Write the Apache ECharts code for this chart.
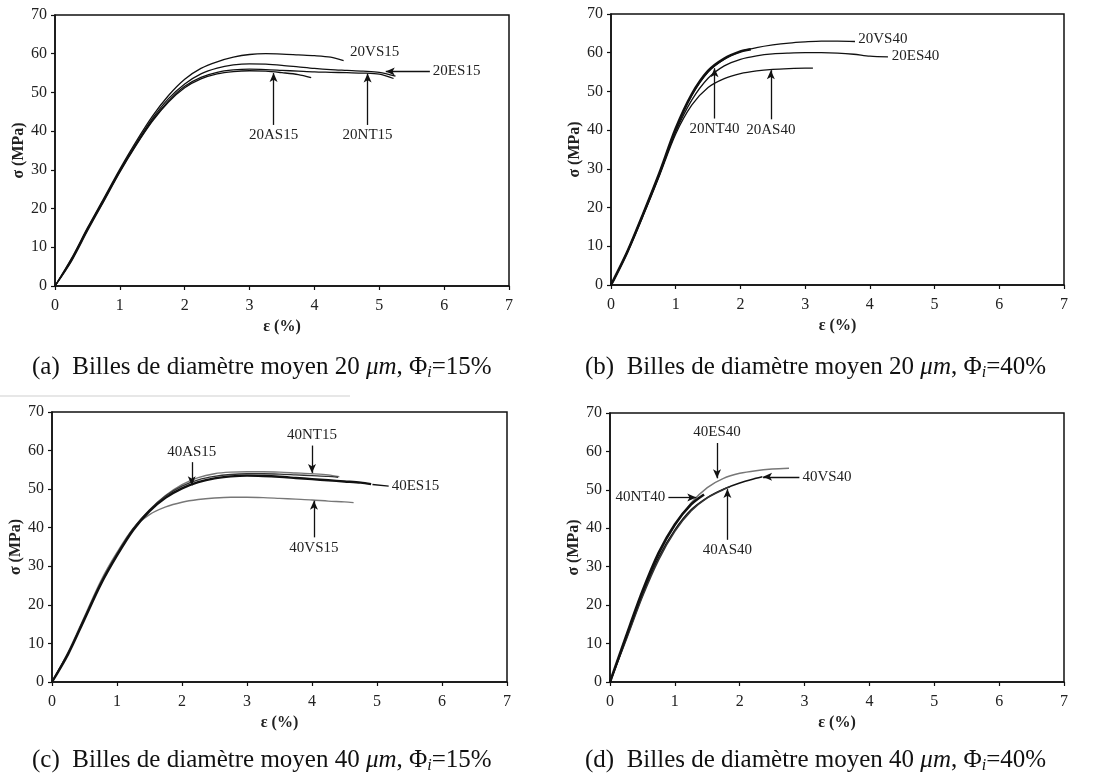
<!DOCTYPE html>
<html>
<head>
<meta charset="utf-8">
<script src="https://cdn.jsdelivr.net/npm/echarts@6/dist/echarts.min.js"></script>
<style>
html,body{margin:0;padding:0;background:#fff;}
#chart{width:1100px;height:781px;}
</style>
</head>
<body>
<div id="chart"></div>
<script>
// ---------- tick labels ----------
const xTicks = [0, 1, 2, 3, 4, 5, 6, 7];
const yTicks = [0, 10, 20, 30, 40, 50, 60, 70];

// ---------- (a) 20 µm, 15% ----------
const a_VS15_x = [0,0.25,0.5,0.75,1,1.25,1.5,1.75,2,2.25,2.5,2.75,3,3.25,3.5,3.75,4,4.25,4.45];
const a_VS15_y = [0,7,15,22.6,30.2,37.3,43.8,49.2,53.4,56.2,57.9,59.1,59.8,60,59.9,59.7,59.5,59.1,58.2];
const a_ES15_x = [0,0.25,0.5,0.75,1,1.25,1.5,1.75,2,2.25,2.5,2.75,3,3.25,3.5,3.75,4,4.25,4.5,4.75,5,5.25];
const a_ES15_y = [0,6.8,14.8,22.3,29.8,36.8,43.2,48.4,52.2,54.8,56.3,57.1,57.4,57.3,57.0,56.6,56.2,55.9,55.7,55.5,55.2,54.2];
const a_NT15_x = [0,0.25,0.5,0.75,1,1.25,1.5,1.75,2,2.25,2.5,2.75,3,3.25,3.5,3.75,4,4.25,4.5,4.75,5,5.22];
const a_NT15_y = [0,6.5,14.5,22,29.6,36.5,42.8,47.8,51.6,53.9,55.2,55.8,56.0,55.9,55.7,55.5,55.3,55.2,55.1,55.0,54.7,53.6];
const a_AS15_x = [0,0.25,0.5,0.75,1,1.25,1.5,1.75,2,2.25,2.5,2.75,3,3.25,3.5,3.75,3.95];
const a_AS15_y = [0,6.3,14.2,21.8,29.4,36.3,42.5,47.5,51.2,53.5,54.8,55.4,55.6,55.5,55.1,54.6,53.8];

// ---------- (b) 20 µm, 40% ----------
const b_VS40_x = [0,0.25,0.5,0.75,1,1.25,1.5,1.75,2,2.25,2.5,2.75,3,3.25,3.5,3.77];
const b_VS40_y = [0,8.6,18.6,29,40.2,49,55,58.3,60.3,61.3,62,62.5,62.8,63,63,62.9];
const b_NT40_x = [0,0.25,0.5,0.75,1,1.25,1.5,1.75,2,2.16];
const b_NT40_y = [0,8.5,18.5,29,40.4,49.3,55.3,58.5,60.3,60.9];
const b_ES40_x = [0,0.25,0.5,0.75,1,1.25,1.5,1.75,2,2.25,2.5,2.75,3,3.25,3.5,3.75,4,4.28];
const b_ES40_y = [0,8.4,18.3,28.6,39.6,47.8,53.4,56.6,58.3,59.2,59.7,59.9,60,60,59.9,59.6,59.1,58.9];
const b_AS40_x = [0,0.25,0.5,0.75,1,1.25,1.5,1.75,2,2.25,2.5,2.75,3,3.12];
const b_AS40_y = [0,8.3,18,28.3,39,46.5,51,53.3,54.6,55.3,55.7,55.9,56,56];

// ---------- (c) 40 µm, 15% ----------
const c_NT15_x = [0,0.25,0.5,0.75,1,1.25,1.5,1.75,2,2.25,2.5,2.75,3,3.25,3.5,3.75,4,4.25,4.42];
const c_NT15_y = [0,7.5,16.5,25.5,33,39.7,44.6,48.4,51.2,53.0,54.0,54.4,54.5,54.5,54.4,54.2,54.0,53.7,53.2];
const c_AS15_x = [0,0.25,0.5,0.75,1,1.25,1.5,1.75,2,2.25,2.5,2.75,3,3.25,3.5,3.75,4,4.25,4.4];
const c_AS15_y = [0,7.6,16.7,25.7,33.2,39.8,44.6,48.3,50.8,52.4,53.3,53.8,54.0,54.0,53.9,53.7,53.5,53.3,53.1];
const c_ES15_x = [0,0.25,0.5,0.75,1,1.25,1.5,1.75,2,2.25,2.5,2.75,3,3.25,3.5,3.75,4,4.25,4.5,4.75,4.91];
const c_ES15_y = [0,7.3,16.3,25.3,32.8,39.4,44.3,47.8,50.2,51.8,52.8,53.3,53.5,53.4,53.2,52.9,52.6,52.3,52.0,51.7,51.3];
const c_VS15_x = [0,0.25,0.5,0.75,1,1.25,1.5,1.75,2,2.25,2.5,2.75,3,3.25,3.5,3.75,4,4.25,4.5,4.64];
const c_VS15_y = [0,7.8,17,26.2,33.6,39.8,43.4,45.4,46.6,47.3,47.7,47.9,47.9,47.8,47.6,47.4,47.2,46.9,46.7,46.5];

// ---------- (d) 40 µm, 40% ----------
const d_ES40_x = [0,0.25,0.5,0.75,1,1.25,1.5,1.75,2,2.25,2.5,2.76];
const d_ES40_y = [0,11.5,23,33.2,40.8,46.6,50.6,53,54.3,55,55.4,55.6];
const d_VS40_x = [0,0.25,0.5,0.75,1,1.25,1.5,1.75,2,2.25,2.35];
const d_VS40_y = [0,11.3,22.6,32.4,39.6,44.8,48,50.2,51.8,53,53.4];
const d_AS40_x = [0,0.25,0.5,0.75,1,1.25,1.5,1.75,1.85];
const d_AS40_y = [0,11,22.2,31.8,39.2,44.5,47.9,50.1,50.8];
const d_NT40_x = [0,0.25,0.5,0.75,1,1.25,1.45];
const d_NT40_y = [0,12,23.6,33.6,41,46.2,48.8];

// ---------- annotations (data coords) ----------
const arrowsA = [
  {text:'20AS15', from:[3.37,41.6], to:[3.37,55.0]},
  {text:'20NT15', from:[4.82,41.6], to:[4.82,54.9]},
  {text:'20ES15', from:[5.78,55.4], to:[5.1,55.4]}
];
const textsA = [{text:'20VS15', at:[4.55,60.4]}];
const arrowsB = [
  {text:'20NT40', from:[1.6,43.0], to:[1.6,56.0]},
  {text:'20AS40', from:[2.47,42.8], to:[2.47,55.5]}
];
const textsB = [{text:'20VS40', at:[3.82,63.6]}, {text:'20ES40', at:[4.34,59.1]}];
const arrowsC = [
  {text:'40AS15', from:[2.15,57.0], to:[2.15,51.0]},
  {text:'40NT15', from:[4.0,61.3], to:[4.0,54.2]},
  {text:'40VS15', from:[4.03,37.5], to:[4.03,47.0]}
];
const linesC = [{text:'40ES15', from:[4.93,51.2], to:[5.18,50.8]}];
const arrowsD = [
  {text:'40ES40', from:[1.65,62.2], to:[1.65,53.0]},
  {text:'40VS40', from:[2.92,53.4], to:[2.36,53.4]},
  {text:'40NT40', from:[0.9,48.0], to:[1.33,48.0]},
  {text:'40AS40', from:[1.81,37.0], to:[1.81,50.2]}
];

const captions = [
  {label:'(a)', d:'20', phi:'15%'},
  {label:'(b)', d:'20', phi:'40%'},
  {label:'(c)', d:'40', phi:'15%'},
  {label:'(d)', d:'40', phi:'40%'}
];

// ---------- layout ----------
const SERIF = 'Liberation Serif';
const grids = [
  {left:55, top:15, width:454, height:271},
  {left:611, top:14, width:453, height:271},
  {left:52, top:412, width:455, height:270},
  {left:610, top:413, width:454, height:269}
];
const yNameGap = [24, 28, 27, 25];
const xNameGap = [33, 33, 33, 33];

function zip(xs, ys){ return xs.map((x,i)=>[x, ys[i]]); }

const labelFont = {fontFamily:SERIF, fontSize:15, color:'#222'};

function arrowMarkLine(arrows, noHead){
  return {
    silent:true,
    animation:false,
    symbol: noHead ? ['none','none'] : ['none','arrow'],
    symbolSize: [6, 9],
    lineStyle:{color:'#111', width:1.3, type:'solid'},
    label:{show:true, position: noHead ? 'end' : 'start', distance:3, formatter:'{b}', ...labelFont},
    emphasis:{disabled:true},
    data: arrows.map(a=>[{name:a.text, coord:a.from}, {coord:a.to}])
  };
}
function textMarkPoint(texts){
  return {
    silent:true,
    animation:false,
    symbol:'circle', symbolSize:0,
    label:{show:true, position:'right', distance:0, formatter:'{b}', ...labelFont},
    data: texts.map(t=>({name:t.text, coord:t.at}))
  };
}

function curve(name, idx, xs, ys, color, width, extra){
  const s = {
    name, type:'line', xAxisIndex:idx, yAxisIndex:idx,
    data: zip(xs, ys), showSymbol:false, symbol:'none',
    smooth:0.3,
    lineStyle:{color, width}, animation:false, silent:true, z:3
  };
  return Object.assign(s, extra||{});
}

const xAxes = grids.map((g,i)=>({
  type:'value', gridIndex:i, min:0, max:7, interval:1,
  name:'ε (%)', nameLocation:'middle', nameGap:xNameGap[i],
  nameTextStyle:{fontFamily:SERIF, fontSize:16, fontWeight:'bold', color:'#222'},
  axisLine:{show:true, onZero:false, lineStyle:{color:'#111', width:1.5}},
  axisTick:{show:true, length:4, lineStyle:{color:'#111', width:1.2}},
  axisLabel:{margin:12, fontFamily:SERIF, fontSize:16, color:'#222', formatter:(v)=>String(xTicks[Math.round(v)])},
  splitLine:{show:false}
}));
const yAxes = grids.map((g,i)=>({
  type:'value', gridIndex:i, min:0, max:70, interval:10,
  name:'σ (MPa)', nameLocation:'middle', nameGap:yNameGap[i], nameRotate:90,
  nameTextStyle:{fontFamily:SERIF, fontSize:16, fontWeight:'bold', color:'#222'},
  axisLine:{show:true, onZero:false, lineStyle:{color:'#111', width:1.5}},
  axisTick:{show:true, length:4, lineStyle:{color:'#111', width:1.2}},
  axisLabel:{margin:8, fontFamily:SERIF, fontSize:16, color:'#222', formatter:(v)=>String(yTicks[Math.round(v/10)])},
  splitLine:{show:false}
}));

const series = [
  // (a)
  curve('20VS15', 0, a_VS15_x, a_VS15_y, '#111', 1.3, {markPoint:textMarkPoint(textsA)}),
  curve('20ES15', 0, a_ES15_x, a_ES15_y, '#111', 1.3, {markLine:arrowMarkLine(arrowsA)}),
  curve('20NT15', 0, a_NT15_x, a_NT15_y, '#111', 1.3),
  curve('20AS15', 0, a_AS15_x, a_AS15_y, '#111', 1.3),
  // (b)
  curve('20VS40', 1, b_VS40_x, b_VS40_y, '#111', 1.3, {markPoint:textMarkPoint(textsB)}),
  curve('20ES40', 1, b_ES40_x, b_ES40_y, '#111', 1.3, {markLine:arrowMarkLine(arrowsB)}),
  curve('20AS40', 1, b_AS40_x, b_AS40_y, '#111', 1.3),
  curve('20NT40', 1, b_NT40_x, b_NT40_y, '#111', 2.6),
  // (c)
  curve('40NT15', 2, c_NT15_x, c_NT15_y, '#777', 1.4, {markLine:arrowMarkLine(arrowsC)}),
  curve('40VS15', 2, c_VS15_x, c_VS15_y, '#777', 1.4),
  curve('40AS15', 2, c_AS15_x, c_AS15_y, '#333', 1.4, {markLine:arrowMarkLine(linesC, true)}),
  curve('40ES15', 2, c_ES15_x, c_ES15_y, '#111', 2.4),
  // (d)
  curve('40ES40', 3, d_ES40_x, d_ES40_y, '#777', 1.5, {markLine:arrowMarkLine(arrowsD)}),
  curve('40VS40', 3, d_VS40_x, d_VS40_y, '#111', 1.5),
  curve('40AS40', 3, d_AS40_x, d_AS40_y, '#333', 1.5),
  curve('40NT40', 3, d_NT40_x, d_NT40_y, '#111', 2.6)
];

const capPos = [[32,370],[585,370],[32,763],[585,763]];
const capRich = {
  n:{fontFamily:SERIF, fontSize:25, color:'#111'},
  it:{fontFamily:SERIF, fontSize:25, fontStyle:'italic', color:'#111'},
  sub:{fontFamily:SERIF, fontSize:16, fontStyle:'italic', color:'#111', padding:[10,0,0,0]}
};
const graphics = captions.map((c,i)=>({
  type:'text', left:capPos[i][0], top:capPos[i][1]-15, silent:true,
  style:{
    text:'{n|' + c.label + '  Billes de diamètre moyen ' + c.d + ' }{it|μm}{n|, Φ}{sub|i}{n|=' + c.phi + '}',
    rich:capRich, fontFamily:SERIF, fontSize:25, fill:'#111'
  }
}));
// faint scan line above panel (c)
graphics.push({type:'line', silent:true, shape:{x1:0, y1:396, x2:350, y2:396}, style:{stroke:'#cfcfcf', lineWidth:1}});

const chart = echarts.init(document.getElementById('chart'), null, {renderer:'canvas'});
chart.setOption({
  animation:false,
  backgroundColor:'#fff',
  grid: grids.map(g=>Object.assign({show:true, borderColor:'#111', borderWidth:1.5, backgroundColor:'#fff', containLabel:false}, g)),
  xAxis: xAxes,
  yAxis: yAxes,
  series,
  graphic: graphics
});
</script>
</body>
</html>
